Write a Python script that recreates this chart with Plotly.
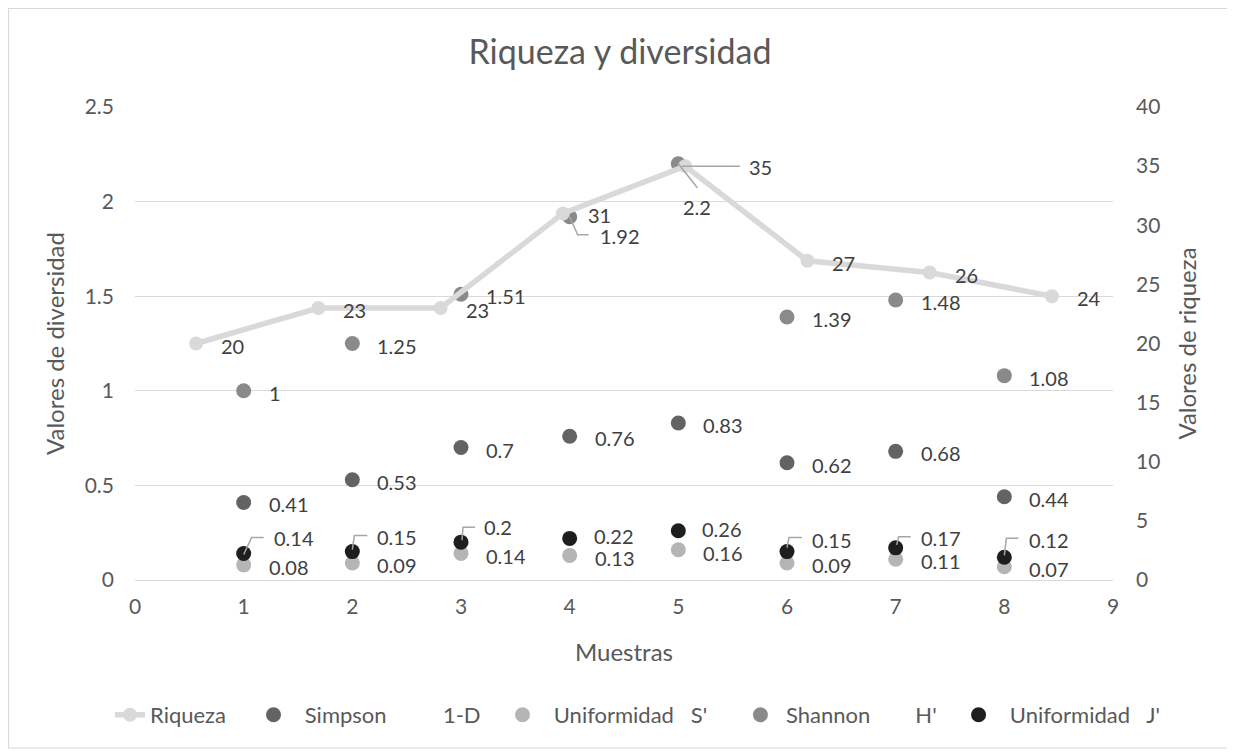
import plotly.graph_objects as go

# ---------------- data ----------------
muestras = [1, 2, 3, 4, 5, 6, 7, 8]
riqueza = [20, 23, 23, 31, 35, 27, 26, 24]
simpson = [0.41, 0.53, 0.7, 0.76, 0.83, 0.62, 0.68, 0.44]
unif_s = [0.08, 0.09, 0.14, 0.13, 0.16, 0.09, 0.11, 0.07]
shannon = [1, 1.25, 1.51, 1.92, 2.2, 1.39, 1.48, 1.08]
unif_j = [0.14, 0.15, 0.2, 0.22, 0.26, 0.15, 0.17, 0.12]

NB = "\u00a0"
names = {
    "riq": "Riqueza" + NB * 4,
    "simp": NB * 2 + "Simpson" + NB * 10 + "1-D" + NB * 3,
    "us": NB * 2 + "Uniformidad" + NB * 3 + "S'" + NB * 5,
    "sh": NB * 1 + "Shannon" + NB * 8 + "H'" + NB * 3,
    "uj": NB * 2 + "Uniformidad" + NB * 3 + "J'",
}

# ---------------- styles ----------------
FONT = "Lato"
C_TEXT = "#404040"
C_AXIS = "#595959"
C_GRID = "#d9d9d9"
C_LEADER = "#a6a6a6"
colors = {"riq": "#d9d9d9", "simp": "#636363", "us": "#b5b5b5", "sh": "#8a8a8a", "uj": "#1e1e1e"}
MS = 15

# figure is drawn inside an 8px page margin
W, H = 1227, 747
ML, MR, MT, MB = 127, 122, 99, 175
PW, PH = W - ML - MR, H - MT - MB

fig = go.Figure()

fig.add_trace(go.Scatter(
    x=muestras, y=riqueza, name=names["riq"], mode="lines+markers",
    line=dict(color=colors["riq"], width=5.5),
    marker=dict(color=colors["riq"], size=14),
    xaxis="x2", yaxis="y2"))

for key, vals in [("simp", simpson), ("us", unif_s), ("sh", shannon), ("uj", unif_j)]:
    fig.add_trace(go.Scatter(
        x=muestras, y=vals, name=names[key], mode="markers",
        marker=dict(color=colors[key], size=MS)))

# ---------------- data labels ----------------
DEF = (24, 2)
special = {
    ("riq", 4): (63, 1, "left", "M -3,0 L 55,0"),
    ("sh", 3): (29, 19, "left", "M 0,0 L 8,-18 L 19,-18"),
    ("sh", 4): (19, 43, "center", "M 0,0 L 19,-24"),
    ("us", 3): (24, 3, "left", None),
    ("us", 4): (24, 3, "left", None),
    ("uj", 0): (29, -16, "left", "M 0,-1 L 8,16 L 20,16"),
    ("uj", 1): (24, -15, "left", "M 0,2 L 2,16 L 15,16"),
    ("uj", 2): (22, -15, "left", "M 1,2 L 2,15 L 14,15"),
    ("uj", 3): (23, -2, "left", None),
    ("uj", 4): (23, -2, "left", None),
    ("uj", 5): (24, -12, "left", "M 0,4 L 2,14 L 15,14"),
    ("uj", 6): (24, -10, "left", "M 1,3 L 3,11 L 15,11"),
    ("uj", 7): (24, -17, "left", "M 0,2 L 2,19 L 14,19"),
}

annotations = []
shapes = []
series = [("riq", riqueza, "x2", "y2"), ("simp", simpson, "x", "y"),
          ("us", unif_s, "x", "y"), ("sh", shannon, "x", "y"), ("uj", unif_j, "x", "y")]
for key, vals, xr, yr in series:
    for i, (xv, yv) in enumerate(zip(muestras, vals)):
        dx, dy, anc, path = special.get((key, i), (DEF[0], DEF[1], "left", None))
        annotations.append(dict(
            x=xv, y=yv, xref=xr, yref=yr, text=f"{yv:g}", showarrow=False,
            xanchor=anc, yanchor="middle", xshift=dx, yshift=-dy,
            font=dict(family=FONT, size=20, color=C_TEXT), borderpad=0))
        if path:
            shapes.append(dict(
                type="path", path=path, xref=xr, yref=yr,
                xsizemode="pixel", ysizemode="pixel", xanchor=xv, yanchor=yv,
                line=dict(color=C_LEADER, width=1.5), layer="above"))

# outer chart border (figure px -> paper)
bx0, bx1, by0, by1 = 0.5, 1220, 0.5, 740
shapes.append(dict(type="rect", xref="paper", yref="paper",
                   x0=(bx0 - ML) / PW, x1=(bx1 - ML) / PW,
                   y0=(H - MB - by1) / PH, y1=(H - MB - by0) / PH,
                   line=dict(color=C_GRID, width=1.2), layer="below"))

tickfont = dict(family=FONT, size=21, color=C_AXIS)
titlefont = dict(family=FONT, size=24, color=C_AXIS)

# legend placed below the plot, starting left of it (figure px -> paper)
LEG_X, LEG_Y = 102, 707

fig.update_layout(
    width=W, height=H,
    margin=dict(l=ML, r=MR, t=MT, b=MB),
    paper_bgcolor="white", plot_bgcolor="white",
    title=dict(text="Riqueza y diversidad", x=612 / W, xanchor="center",
               y=1 - 44 / H, yanchor="middle",
               font=dict(family=FONT, size=34, color=C_AXIS)),
    xaxis=dict(range=[0, 9], dtick=1, showgrid=False, zeroline=False, showline=False,
               ticks="", tickfont=tickfont, ticklabelstandoff=12,
               title=dict(text="Muestras", font=titlefont, standoff=27)),
    xaxis2=dict(range=[0.5, 8.5], overlaying="x", anchor="y", visible=False),
    yaxis=dict(range=[0, 2.5], dtick=0.5, showgrid=True, gridcolor=C_GRID, gridwidth=1.2,
               zeroline=True, zerolinecolor=C_GRID, zerolinewidth=1.2, showline=False,
               ticks="", tickfont=tickfont, ticklabelstandoff=20,
               title=dict(text="Valores de diversidad", font=titlefont, standoff=13)),
    yaxis2=dict(range=[0, 40], dtick=5, overlaying="y", anchor="x", side="right",
                showgrid=False, zeroline=False, showline=False, ticks="",
                tickfont=tickfont, ticklabelstandoff=22,
                title=dict(text="Valores de riqueza", font=titlefont, standoff=19)),
    legend=dict(orientation="h", xref="paper", yref="paper",
                x=(LEG_X - ML) / PW, xanchor="left",
                y=(H - MB - LEG_Y) / PH, yanchor="middle",
                font=dict(family=FONT, size=22, color=C_AXIS),
                traceorder="normal"),
    annotations=annotations,
    shapes=shapes,
)

fig.write_html("out.html")
